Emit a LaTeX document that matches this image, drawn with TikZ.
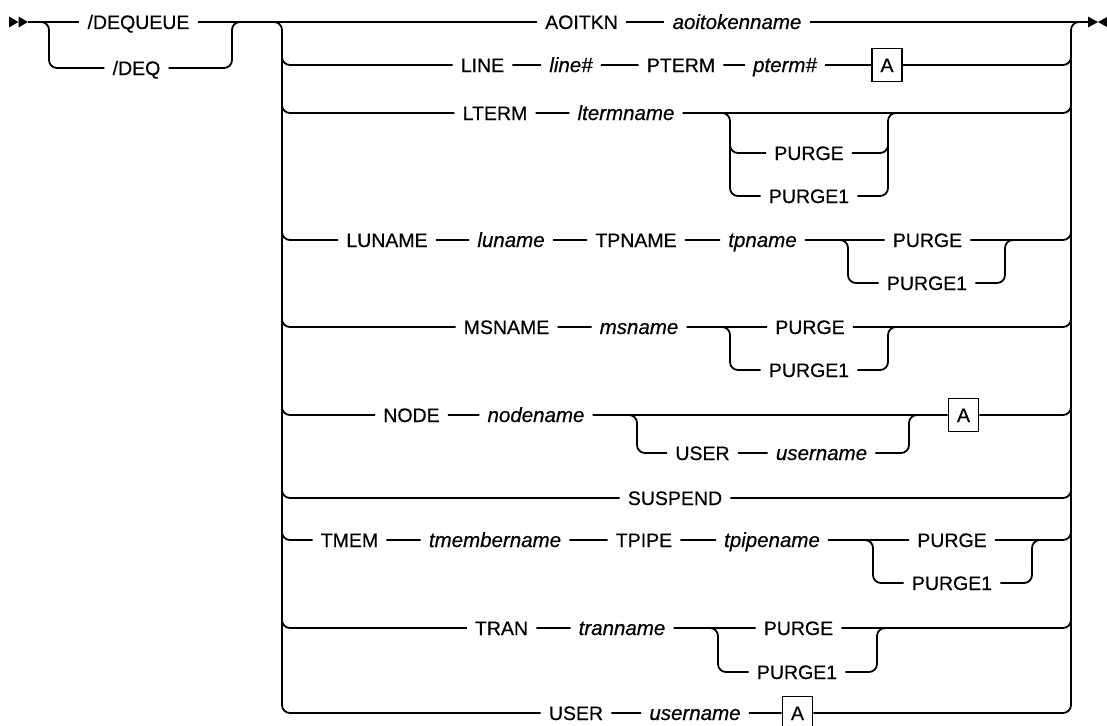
\documentclass[tikz,border=0pt]{standalone}
\usepackage{fontspec}
\setmainfont{Liberation Sans}[FakeBold=0.5]
\begin{document}
\begin{tikzpicture}[x=1pt,y=-1pt,
  kw/.style={inner xsep=8pt, inner ysep=2pt, text height=14pt, text depth=0pt, font=\fontsize{19.5}{22}\selectfont},
  vname/.style={kw, font=\fontsize{20.5}{22}\selectfont\itshape},
  refbox/.style={draw, line width=1.7pt, minimum width=30pt, minimum height=33pt, inner sep=0pt, text height=14pt, text depth=0pt, font=\fontsize{19.5}{22}\selectfont},
  rl/.style={line width=1.8pt, rounded corners=8pt},
  endtri/.style={fill=black, draw=none}]
\useasboundingbox (0,0) rectangle (1107,725);

% start / end markers
\coordinate (st) at (28,22);
\coordinate (en) at (1088,22);
\fill[endtri] (9,16.5) -- (18.5,22) -- (9,27.5) -- cycle;
\fill[endtri] (18.5,16.5) -- (28,22) -- (18.5,27.5) -- cycle;
\fill[endtri] (1088,16.5) -- (1098,22) -- (1088,27.5) -- cycle;
\fill[endtri] (1107,17) -- (1098,22) -- (1107,27) -- cycle;

% nodes
\node[kw] (DEQ0) at (138.5,22) {/DEQUEUE};
\node[kw] (DEQ) at (136.5,68) {/DEQ};
\node[kw] (AOITKN) at (581.5,22) {AOITKN};
\node[vname] (aoitok) at (737,22) {aoitokenname};

\node[kw] (LINE) at (482.5,65) {LINE};
\node[vname] (linen) at (571,65) {line\#};
\node[kw] (PTERM) at (681,65) {PTERM};
\node[vname] (ptermn) at (785,65) {pterm\#};
\node[refbox] (A1) at (887,65) {A};

\node[kw] (LTERM) at (495,113) {LTERM};
\node[vname] (ltermn) at (626,113) {ltermname};
\node[kw] (P3) at (809,153) {PURGE};
\node[kw] (P4) at (809,196) {PURGE1};

\node[kw] (LUNAME) at (387,240) {LUNAME};
\node[vname] (lun) at (511,240) {luname};
\node[kw] (TPNAME) at (636,240) {TPNAME};
\node[vname] (tpn) at (762.5,240) {tpname};
\node[kw] (P5) at (927.5,240) {PURGE};
\node[kw] (P6) at (927,283) {PURGE1};

\node[kw] (MSNAME) at (506.5,327) {MSNAME};
\node[vname] (msn) at (639,327) {msname};
\node[kw] (P7) at (810,327) {PURGE};
\node[kw] (P8) at (809,370) {PURGE1};

\node[kw] (NODE) at (411.5,415) {NODE};
\node[vname] (noden) at (536,415) {nodename};
\node[refbox] (A9) at (963.5,415) {A};
\node[kw] (USER10) at (702.5,453) {USER};
\node[vname] (user10) at (821.5,453) {username};

\node[kw] (SUSPEND) at (675,498) {SUSPEND};

\node[kw] (TMEM) at (349.5,540) {TMEM};
\node[vname] (tmn) at (495,540) {tmembername};
\node[kw] (TPIPE) at (644,540) {TPIPE};
\node[vname] (tpipen) at (772,540) {tpipename};
\node[kw] (P12) at (952,540) {PURGE};
\node[kw] (P13) at (952,583) {PURGE1};

\node[kw] (TRAN) at (501.5,628) {TRAN};
\node[vname] (trann) at (622,628) {tranname};
\node[kw] (P14) at (798.5,628) {PURGE};
\node[kw] (P15) at (797,672) {PURGE1};

\node[kw] (USER16) at (576,713) {USER};
\node[vname] (user16) at (695,713) {username};
\node[refbox] (A16) at (797.5,713) {A};

% row 0 main line
\draw[rl] (st) -- (DEQ0) -- (AOITKN) -- (aoitok) -- (en);
% /DEQ branch
\draw[rl] (40,22) -| (49,68) -- (DEQ) -| (232,22) -- (242,22);
% main rails with last row
\draw[rl] (272,22) -| (282,713) -- (USER16) -- (user16) -- (A16) -| (1071,22) -- (1081,22);

% rows
\draw[rl] (282,53) |- (LINE) -- (linen) -- (PTERM) -- (ptermn) -- (A1) -| (1071,53);

\draw[rl] (282,101) |- (LTERM) -- (ltermn) -| (1071,101);
\draw[rl] (720,113) -| (730,196) -- (P4) -| (888,113) -- (898,113);
\draw[rl] (730,141) |- (P3) -| (888,141);

\draw[rl] (282,228) |- (LUNAME) -- (lun) -- (TPNAME) -- (tpn) -- (P5) -| (1071,228);
\draw[rl] (840,240) -| (848,283) -- (P6) -| (1005,240) -- (1015,240);

\draw[rl] (282,315) |- (MSNAME) -- (msn) -- (P7) -| (1071,315);
\draw[rl] (722,327) -| (730,370) -- (P8) -| (888,327) -- (898,327);

\draw[rl] (282,403) |- (NODE) -- (noden) -- (A9) -| (1071,403);
\draw[rl] (629,415) -| (637,453) -- (USER10) -- (user10) -| (909,415) -- (919,415);

\draw[rl] (282,486) |- (SUSPEND) -| (1071,486);

\draw[rl] (282,528) |- (TMEM) -- (tmn) -- (TPIPE) -- (tpipen) -- (P12) -| (1071,528);
\draw[rl] (865,540) -| (873,583) -- (P13) -| (1032,540) -- (1042,540);

\draw[rl] (282,616) |- (TRAN) -- (trann) -- (P14) -| (1071,616);
\draw[rl] (710,628) -| (718,672) -- (P15) -| (877,628) -- (887,628);

% thicker vertical main rails
\draw[line width=2.4pt] (282,32) -- (282,703);
\draw[line width=2.4pt] (1071,32) -- (1071,703);
\end{tikzpicture}
\end{document}
